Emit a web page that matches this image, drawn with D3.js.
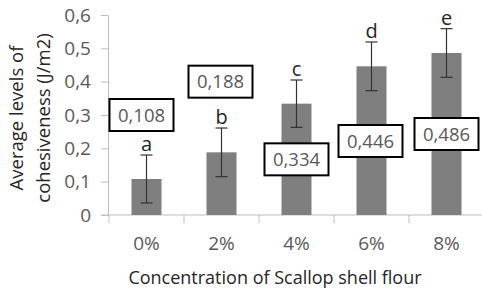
<!DOCTYPE html>
<html>
<head>
<meta charset="utf-8">
<script src="https://cdn.jsdelivr.net/npm/d3@7"></script>
<style>
  body { margin: 0; background: #fff; }
  text { font-family: "Open Sans", "Noto Sans", sans-serif; }
</style>
</head>
<body>
<div id="chart"></div>
<script>
// Chart data
const categories = ["0%", "2%", "4%", "6%", "8%"];
const means = [0.108, 0.188, 0.334, 0.446, 0.486];
const errors = [0.072, 0.073, 0.071, 0.073, 0.073];
const letters = ["a", "b", "c", "d", "e"];
const valueLabels = ["0,108", "0,188", "0,334", "0,446", "0,486"];
// where each boxed value label sits, in axis units
const boxAt = [0.30, 0.40, 0.167, 0.222, 0.243];
const boxShift = [-5, -1, 0, -1, 0];
const yTicks = [0, 0.1, 0.2, 0.3, 0.4, 0.5, 0.6];

const width = 482, height = 293;
const margin = { top: 15, right: 0, bottom: 78, left: 109 };

const svg = d3.select("#chart")
    .append("svg")
    .attr("width", width)
    .attr("height", height);

const x = d3.scaleBand()
    .domain(categories)
    .range([margin.left, 484])
    .paddingInner(0.6)
    .paddingOuter(0.3);

const y = d3.scaleLinear()
    .domain([0, 0.6])
    .range([height - margin.bottom, margin.top]);

const axisColor = "#bfbfbf";
const fmt = d => d === 0 ? "0" : d.toFixed(1).replace(".", ",");

// y axis
const yAxis = svg.append("g")
    .attr("transform", `translate(${margin.left - 1},0)`)
    .call(d3.axisLeft(y).tickValues(yTicks).tickFormat(fmt).tickSize(7).tickPadding(10));
yAxis.select(".domain").attr("stroke", axisColor);
yAxis.selectAll(".tick line").attr("stroke", axisColor);
yAxis.selectAll(".tick text")
    .attr("fill", "#595959")
    .style("font-size", "19px");

// x axis with ticks at category boundaries
const xAxisY = y(0);
const xg = svg.append("g");
xg.append("line")
    .attr("x1", margin.left - 8).attr("x2", 482)
    .attr("y1", xAxisY).attr("y2", xAxisY)
    .attr("stroke", axisColor);
const step = x.step();
const bounds = categories.map((c, i) => x(c) - step * 0.3);
xg.selectAll(".bound")
    .data(bounds)
    .join("line")
    .attr("x1", d => d).attr("x2", d => d)
    .attr("y1", xAxisY).attr("y2", xAxisY + 8)
    .attr("stroke", axisColor);
xg.selectAll(".xlab")
    .data(categories)
    .join("text")
    .attr("x", d => x(d) + x.bandwidth() / 2)
    .attr("y", xAxisY + 35)
    .attr("text-anchor", "middle")
    .attr("fill", "#595959")
    .style("font-size", "19px")
    .text(d => d);

// bars
svg.selectAll(".bar")
    .data(means)
    .join("rect")
    .attr("x", (d, i) => x(categories[i]))
    .attr("y", d => y(d))
    .attr("width", x.bandwidth())
    .attr("height", d => y(0) - y(d))
    .attr("fill", "#7f7f7f");

// error bars
const cx = i => x(categories[i]) + x.bandwidth() / 2;
const eb = svg.append("g").attr("stroke", "#333").attr("stroke-width", 1.2);
means.forEach((m, i) => {
    const top = y(m + errors[i]), bot = y(m - errors[i]);
    eb.append("line").attr("x1", cx(i)).attr("x2", cx(i)).attr("y1", top).attr("y2", bot);
    eb.append("line").attr("x1", cx(i) - 6).attr("x2", cx(i) + 6).attr("y1", top).attr("y2", top);
    eb.append("line").attr("x1", cx(i) - 6).attr("x2", cx(i) + 6).attr("y1", bot).attr("y2", bot);
});

// significance letters
svg.selectAll(".letter")
    .data(letters)
    .join("text")
    .attr("x", (d, i) => cx(i))
    .attr("y", (d, i) => y(means[i] + errors[i]) - 4)
    .attr("text-anchor", "middle")
    .attr("fill", "#262626")
    .style("font-size", "20px")
    .text(d => d);

// boxed value labels
const boxes = svg.selectAll(".vbox")
    .data(valueLabels)
    .join("g")
    .attr("transform", (d, i) => `translate(${cx(i) + boxShift[i]},${y(boxAt[i])})`);
boxes.append("rect")
    .attr("x", -32).attr("y", -16)
    .attr("width", 64).attr("height", 32)
    .attr("fill", "#fff")
    .attr("stroke", "#000")
    .attr("stroke-width", 2);
boxes.append("text")
    .attr("text-anchor", "middle")
    .attr("dy", "0.36em")
    .attr("fill", "#595959")
    .style("font-size", "18.5px")
    .text(d => d);

// axis titles
svg.append("text")
    .attr("x", 275)
    .attr("y", 284)
    .attr("text-anchor", "middle")
    .attr("fill", "#262626")
    .style("font-size", "18px")
    .text("Concentration of Scallop shell flour");

const yt = svg.append("text")
    .attr("transform", "translate(0,118) rotate(-90)")
    .attr("text-anchor", "middle")
    .attr("fill", "#262626")
    .style("font-size", "18.5px");
yt.append("tspan").attr("x", 0).attr("y", 23).text("Average levels of");
yt.append("tspan").attr("x", 0).attr("y", 50).text("cohesiveness (J/m2)");
</script>
</body>
</html>
